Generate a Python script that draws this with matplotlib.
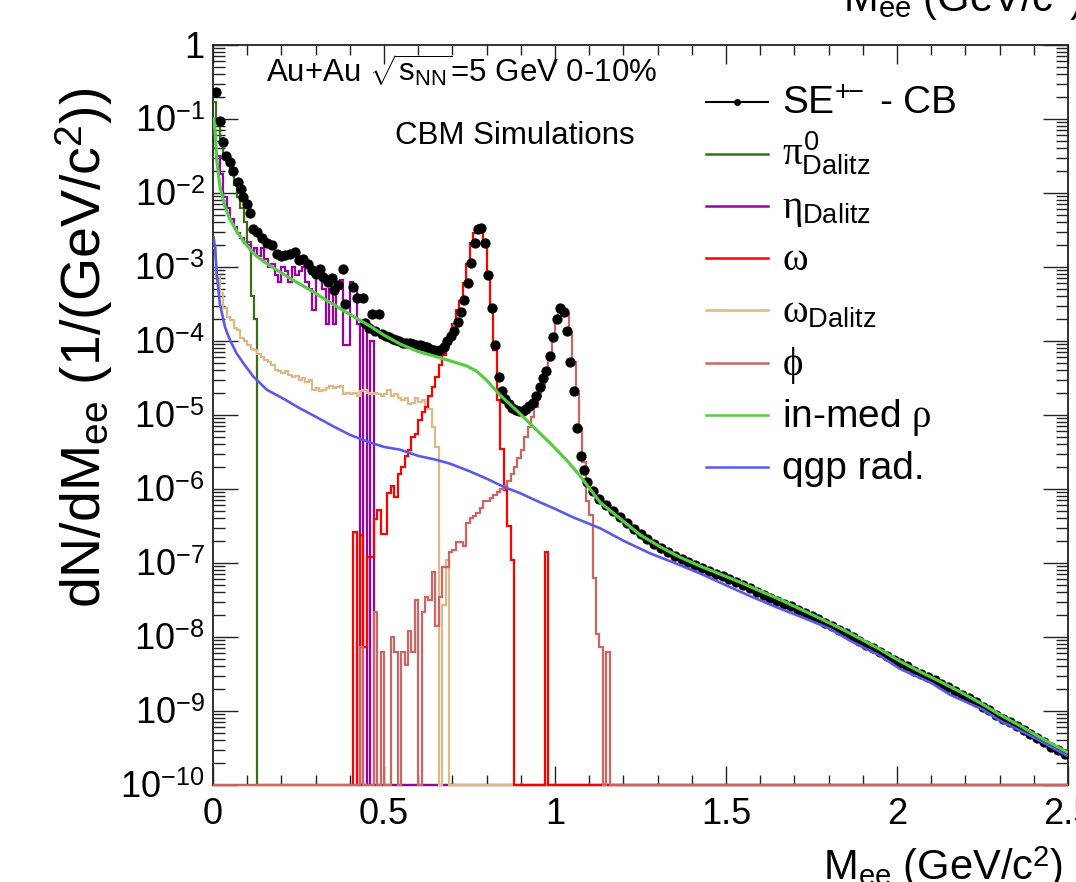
import numpy as np
import matplotlib.pyplot as plt
from matplotlib import ticker

plt.rcParams['font.family'] = 'Liberation Sans'
plt.rcParams['mathtext.fontset'] = 'custom'
plt.rcParams['mathtext.rm'] = 'Liberation Sans'
plt.rcParams['mathtext.it'] = 'Liberation Serif'
plt.rcParams['mathtext.bf'] = 'Liberation Sans:bold'

# ==============================================================================
# DATA: dN/dM_ee, 0-10% Au+Au at sqrt(s_NN) = 5 GeV
# ==============================================================================
BIN = 0.01            # histogram bin width (GeV/c^2)
YMIN, YMAX = 1e-10, 1.0

# cocktail histograms: first bin low edge + contents of consecutive bins
pi0_start = 0.00
pi0_vals = [1.7e-1, 8.9e-2, 5.6e-2, 3.5e-2, 2.5e-2, 1.8e-2, 1.3e-2, 8.9e-3,
            6.3e-3, 4.0e-3, 2.2e-3, 4.0e-4, 2.0e-4]

eta_start = 0.00
eta_vals = [4.0e-2, 3.2e-2, 1.8e-2, 8.9e-3, 6.3e-3, 4.4e-3, 3.5e-3, 2.9e-3,
            2.5e-3, 2.1e-3, 2.0e-3, 1.6e-3, 1.8e-3, 1.4e-3, 1.8e-3, 1.3e-3,
            1.0e-3, 1.1e-3, 7.9e-4, 6.3e-4, 1.0e-3, 8.9e-4, 6.3e-4, 1.0e-3,
            7.9e-4, 8.9e-4, 1.0e-3, 6.3e-4, 5.0e-4, 2.6e-4, 7.9e-4, 7.1e-4,
            5.0e-4, 1.7e-4, 5.0e-4, 1.7e-4, 5.6e-4, 6.6e-4, 8.9e-5, 8.9e-5,
            6.3e-4, 5.6e-4, 1.7e-4, 0.0, 1.6e-4, 0.0, 1.0e-4, 0.0]

omega_start = 0.41
omega_vals = [2.6e-7, 0.0, 2.4e-7, 7.4e-9, 1.2e-7, 1.2e-7, 3.9e-7, 5.2e-7,
              2.5e-7, 2.5e-7, 8.9e-7, 1.1e-6, 7.9e-7, 1.6e-6, 2.0e-6, 2.8e-6,
              3.4e-6, 5.1e-6, 5.6e-6, 8.5e-6, 1.1e-5, 1.3e-5, 1.8e-5, 2.4e-5,
              3.3e-5, 4.8e-5, 6.5e-5, 8.3e-5, 1.26e-4, 1.7e-4, 2.6e-4, 3.5e-4,
              6.0e-4, 1.1e-3, 2.1e-3, 2.9e-3, 3.3e-3, 3.3e-3, 2.1e-3, 7.8e-4,
              2.8e-4, 7.6e-5, 1.6e-5, 3.5e-6, 9.8e-7, 3.2e-7, 1.1e-7,
              0.0, 0.0, 0.0, 0.0, 0.0, 0.0, 0.0, 0.0, 0.0, 1.4e-7]

omegaD_start = 0.00
omegaD_vals = [1.8e-3, 7.4e-4, 4.4e-4, 2.8e-4, 2.1e-4, 1.9e-4, 1.5e-4, 1.4e-4,
               1.1e-4, 1.0e-4, 8.9e-5, 7.9e-5, 7.6e-5, 6.6e-5, 6.0e-5, 5.5e-5,
               5.2e-5, 4.7e-5, 4.1e-5, 3.9e-5, 3.7e-5, 3.9e-5, 3.5e-5, 3.3e-5,
               3.4e-5, 3.0e-5, 3.2e-5, 2.8e-5, 3.0e-5, 2.2e-5, 2.3e-5, 2.1e-5,
               2.2e-5, 2.3e-5, 2.5e-5, 2.3e-5, 2.4e-5, 2.5e-5, 1.9e-5, 2.0e-5,
               1.9e-5, 2.0e-5, 1.8e-5, 2.1e-5, 2.2e-5, 2.0e-5, 1.9e-5, 2.0e-5,
               1.9e-5, 1.8e-5, 1.9e-5, 2.2e-5, 1.8e-5, 1.9e-5, 1.7e-5, 1.6e-5,
               1.7e-5, 1.4e-5, 1.45e-5, 1.7e-5, 1.5e-5, 1.6e-5, 1.3e-5, 1.2e-5,
               6.9e-6, 3.7e-6, 0.0, 2.7e-8, 1.1e-7]

phi_start = 0.42
phi_vals = [0.0, 7.4e-9, 0.0, 0.0, 0.0, 2.2e-8, 0.0, 6.3e-9, 0.0, 0.0,
            1.0e-8, 6.3e-9, 0.0, 6.3e-9, 4.2e-9, 1.2e-8, 6.3e-9, 3.2e-8, 0.0, 2.2e-8,
            3.5e-8, 3.2e-8, 7.6e-8, 1.4e-8, 3.5e-8, 8.9e-8, 8.9e-8, 1.4e-7, 1.5e-7, 1.9e-7,
            1.95e-7, 1.7e-7, 3.5e-7, 4.0e-7, 4.3e-7, 4.7e-7, 5.5e-7, 6.8e-7, 6.8e-7, 7.6e-7,
            8.3e-7, 9.1e-7, 1.0e-6, 1.1e-6, 1.3e-6, 1.6e-6, 2.0e-6, 2.6e-6, 3.4e-6, 5.1e-6,
            6.9e-6, 9.5e-6, 1.3e-5, 1.8e-5, 2.4e-5, 3.6e-5, 5.5e-5, 1.0e-4, 2.1e-4, 2.6e-4,
            2.6e-4, 2.3e-4, 1.3e-4, 5.2e-5, 1.9e-5, 6.6e-6, 2.3e-6, 6.8e-7, 4.5e-7, 6.2e-8,
            1.1e-8, 7.4e-9, 0.0, 6.3e-9]

# in-medium rho and QGP radiation (smooth model curves)
rho_m = [0.002, 0.006, 0.011, 0.02, 0.035, 0.05, 0.07, 0.09, 0.12, 0.15, 0.19,
         0.235, 0.284, 0.332, 0.38, 0.43, 0.46, 0.5, 0.547, 0.6, 0.644, 0.693,
         0.742, 0.771, 0.8, 0.839, 0.888, 0.937, 0.985, 1.034, 1.073, 1.132,
         1.19, 1.249, 1.307, 1.365, 1.424, 1.482, 1.541, 1.599, 1.658, 1.716,
         1.775, 1.833, 1.892, 1.95, 2.009, 2.067, 2.126, 2.184, 2.243, 2.301,
         2.36, 2.418, 2.496]
rho_y = [1.0e-1, 7.1e-2, 2.8e-2, 1.23e-2, 6.5e-3, 4.4e-3, 3.0e-3, 2.2e-3,
         1.5e-3, 1.17e-3, 8.9e-4, 6.6e-4, 4.9e-4, 3.55e-4, 2.6e-4, 1.9e-4,
         1.58e-4, 1.2e-4, 9.1e-5, 7.2e-5, 6.3e-5, 5.4e-5, 4.6e-5, 3.9e-5,
         2.95e-5, 1.86e-5, 1.15e-5, 6.9e-6, 4.2e-6, 2.45e-6, 1.51e-6, 6.6e-7,
         4.0e-7, 2.4e-7, 1.66e-7, 1.2e-7, 9.1e-8, 7.1e-8, 5.5e-8, 4.2e-8,
         3.2e-8, 2.4e-8, 1.78e-8, 1.32e-8, 9.5e-9, 6.8e-9, 4.7e-9, 3.4e-9,
         2.5e-9, 1.82e-9, 1.29e-9, 8.9e-10, 6.3e-10, 4.4e-10, 2.8e-10]

qgp_m = [0.002, 0.006, 0.011, 0.02, 0.035, 0.05, 0.069, 0.089, 0.118, 0.157,
         0.206, 0.254, 0.3, 0.35, 0.4, 0.45, 0.5, 0.547, 0.6, 0.65, 0.693,
         0.75, 0.8, 0.85, 0.9, 0.95, 1.0, 1.05, 1.132, 1.2, 1.278, 1.35,
         1.425, 1.5, 1.572, 1.65, 1.716, 1.8, 1.863, 1.95, 2.009, 2.1, 2.155,
         2.25, 2.301, 2.4, 2.496]
qgp_y = [2.5e-3, 1.8e-3, 8.1e-4, 3.2e-4, 1.55e-4, 1.02e-4, 6.8e-5, 5.0e-5,
         3.3e-5, 2.2e-5, 1.66e-5, 1.23e-5, 9.5e-6, 7.1e-6, 5.4e-6, 4.4e-6,
         3.7e-6, 3.4e-6, 2.8e-6, 2.5e-6, 2.2e-6, 1.74e-6, 1.38e-6, 1.07e-6,
         8.7e-7, 6.8e-7, 5.4e-7, 4.2e-7, 2.95e-7, 2.0e-7, 1.35e-7, 1.0e-7,
         7.2e-8, 5.0e-8, 3.55e-8, 2.5e-8, 1.9e-8, 1.32e-8, 8.9e-9, 5.6e-9,
         3.7e-9, 2.4e-9, 1.66e-9, 1.05e-9, 7.4e-10, 4.4e-10, 2.5e-10]

# same-event unlike-sign pairs minus combinatorial background
se_m = [0.009, 0.02, 0.028, 0.038, 0.05, 0.059, 0.074, 0.081, 0.089, 0.1,
        0.108, 0.118, 0.13, 0.142, 0.157, 0.172, 0.186, 0.2, 0.21, 0.225,
        0.24, 0.25, 0.264, 0.279, 0.289, 0.301, 0.313, 0.322, 0.337, 0.347,
        0.354, 0.366, 0.381, 0.386, 0.408, 0.42, 0.438,
        0.445, 0.455, 0.465, 0.475, 0.485, 0.495, 0.505, 0.515, 0.525, 0.535,
        0.545, 0.555, 0.565, 0.575, 0.585, 0.595, 0.605, 0.615, 0.625, 0.635,
        0.645, 0.655, 0.665, 0.675, 0.685, 0.695, 0.705, 0.715, 0.725, 0.735,
        0.745, 0.755, 0.765, 0.775, 0.785, 0.795, 0.805, 0.815, 0.825, 0.835,
        0.845, 0.855, 0.865, 0.875, 0.885, 0.895, 0.905, 0.915, 0.925, 0.935,
        0.945, 0.955, 0.965, 0.975, 0.985, 0.995, 1.005, 1.015, 1.025, 1.035,
        1.045, 1.055, 1.065, 1.075, 1.085, 1.095,
        1.11, 1.13, 1.15, 1.17, 1.19, 1.21, 1.23, 1.25, 1.27, 1.29, 1.31,
        1.33, 1.35, 1.37, 1.39, 1.41, 1.43, 1.45, 1.47, 1.49, 1.51, 1.53,
        1.55, 1.57, 1.59, 1.61, 1.63, 1.65, 1.67, 1.69, 1.71, 1.73, 1.75,
        1.77, 1.79, 1.81, 1.83, 1.85, 1.87, 1.89, 1.91, 1.93, 1.95, 1.97,
        1.99, 2.01, 2.03, 2.05, 2.07, 2.09, 2.11, 2.13, 2.15, 2.17, 2.19,
        2.21, 2.23, 2.25, 2.27, 2.29, 2.31, 2.33, 2.35, 2.37, 2.39, 2.41,
        2.43, 2.45, 2.47, 2.49]
se_y = [2.3e-1, 9.5e-2, 4.9e-2, 3.2e-2, 2.6e-2, 2.0e-2, 1.4e-2, 1.15e-2, 8.9e-3, 7.2e-3,
        5.4e-3, 3.3e-3, 3.0e-3, 2.5e-3, 2.1e-3, 2.0e-3, 1.5e-3, 1.4e-3, 1.45e-3, 1.5e-3,
        1.6e-3, 1.26e-3, 1.3e-3, 1.1e-3, 9.1e-4, 8.1e-4, 9.5e-4, 7.4e-4, 6.3e-4, 7.1e-4,
        4.9e-4, 5.8e-4, 9.5e-4, 3.2e-4, 5.4e-4, 3.8e-4, 3.8e-4,
        1.74e-4, 1.51e-4, 2.34e-4, 1.38e-4, 2.29e-4, 1.23e-4, 1.17e-4, 1.12e-4, 1.07e-4, 1.02e-4,
        1.0e-4, 9.5e-5, 9.3e-5, 9.3e-5, 9.1e-5, 8.9e-5, 8.9e-5, 8.5e-5, 8.3e-5, 7.9e-5,
        7.6e-5, 7.4e-5, 7.6e-5, 8.3e-5, 1.0e-4, 1.17e-4, 1.38e-4, 1.82e-4, 2.5e-4, 3.55e-4,
        6.0e-4, 1.12e-3, 2.1e-3, 3.3e-3, 3.4e-3, 2.1e-3, 7.8e-4, 2.75e-4, 8.9e-5, 3.3e-5,
        2.1e-5, 1.66e-5, 1.41e-5, 1.26e-5, 1.17e-5, 1.15e-5, 1.15e-5, 1.2e-5, 1.32e-5, 1.45e-5,
        1.82e-5, 2.4e-5, 3.2e-5, 3.9e-5, 6.2e-5, 1.15e-4, 2.0e-4, 2.75e-4, 2.5e-4, 1.35e-4,
        5.2e-5, 2.1e-5, 6.6e-6, 2.75e-6, 1.82e-6, 1.26e-6,
        9.5e-7, 7.4e-7, 6.0e-7, 5.0e-7, 4.2e-7, 3.5e-7, 2.9e-7, 2.45e-7, 2.1e-7, 1.82e-7, 1.58e-7,
        1.41e-7, 1.26e-7, 1.12e-7, 1.02e-7, 9.3e-8, 8.5e-8, 7.9e-8, 7.2e-8, 6.6e-8, 6.0e-8, 5.6e-8,
        5.0e-8, 4.6e-8, 4.1e-8, 3.7e-8, 3.4e-8, 3.1e-8, 2.8e-8, 2.6e-8, 2.3e-8, 2.1e-8, 1.9e-8,
        1.74e-8, 1.55e-8, 1.41e-8, 1.26e-8, 1.12e-8, 1.0e-8, 8.9e-9, 7.9e-9, 7.1e-9, 6.3e-9, 5.6e-9,
        4.9e-9, 4.4e-9, 4.0e-9, 3.5e-9, 3.2e-9, 2.9e-9, 2.6e-9, 2.3e-9, 2.1e-9, 1.86e-9, 1.66e-9,
        1.48e-9, 1.32e-9, 1.15e-9, 1.02e-9, 8.9e-10, 7.9e-10, 7.1e-10, 6.2e-10, 5.5e-10, 4.9e-10, 4.3e-10,
        3.8e-10, 3.3e-10, 3.0e-10, 2.6e-10]

labels = [r'SE$^{+\!\!-}$ - CB', r'$\pi^{0}_{\mathrm{Dalitz}}$',
          r'$\eta_{\mathrm{Dalitz}}$', r'$\omega$', r'$\omega_{\mathrm{Dalitz}}$',
          r'$\phi$', r'in-med $\rho$', 'qgp rad.']
colors = ['black', '#3c6e14', '#9b00a6', '#ff0000', '#deb887', '#cd6565',
          '#55cc44', '#5a5ae8']

# ==============================================================================
# HELPERS
# ==============================================================================
edges = np.arange(251) * BIN


def full_hist(start, vals):
    """Spread bin contents over 0-2.5 GeV; empty bins sit on the axis floor."""
    out = np.zeros(len(edges) - 1)
    i0 = int(round(start / BIN))
    out[i0:i0 + len(vals)] = vals
    return np.where(out > 0, out, YMIN)


# ==============================================================================
# PLOT
# ==============================================================================
W, H = 1076, 882
fig = plt.figure(figsize=(W / 100, H / 100), dpi=100)
ax = fig.add_axes([213 / W, 1 - 785 / H, 855 / W, 740 / H])

hists = [(pi0_start, pi0_vals, colors[1]),
         (eta_start, eta_vals, colors[2]),
         (omegaD_start, omegaD_vals, colors[4]),
         (omega_start, omega_vals, colors[3]),
         (phi_start, phi_vals, colors[5])]
for start, vals, col in hists:
    ax.stairs(full_hist(start, vals), edges, color=col, lw=1.6,
              baseline=None, zorder=2.6, clip_on=False)

ax.plot(se_m, se_y, 'o', color='black', ms=6.4, mec='black', zorder=3)
ax.plot(rho_m, rho_y, '-', color=colors[6], lw=2.3, zorder=4)
ax.plot(qgp_m, qgp_y, '-', color=colors[7], lw=1.9, zorder=4)

ax.set_xlim(0, 2.5)
ax.set_yscale('log')
ax.set_ylim(YMIN, YMAX)

# ROOT-like frame: ticks inside on all four sides
ax.xaxis.set_major_locator(ticker.MultipleLocator(0.5))
ax.xaxis.set_minor_locator(ticker.MultipleLocator(0.1))
ax.xaxis.set_major_formatter(ticker.FormatStrFormatter('%g'))
ax.yaxis.set_major_locator(ticker.LogLocator(base=10, numticks=20))
ax.yaxis.set_minor_locator(ticker.LogLocator(base=10, subs=np.arange(2, 10), numticks=20))
ax.yaxis.set_minor_formatter(ticker.NullFormatter())
ax.yaxis.set_major_formatter(ticker.FuncFormatter(
    lambda v, p: '1' if abs(v - 1) < 1e-9 else r'10$^{%d}$' % round(np.log10(v))))
ax.tick_params(which='both', direction='in', top=True, right=True,
               width=1.0, colors='#222222', labelcolor='black', labelsize=26)
ax.tick_params(axis='x', which='major', length=14, pad=9)
ax.tick_params(axis='x', which='minor', length=7.5)
ax.tick_params(axis='y', which='major', length=18, pad=6)
ax.tick_params(axis='y', which='minor', length=8.5)
for s in ax.spines.values():
    s.set_linewidth(1.3)
    s.set_color('#222222')

# legend drawn as a fixed-pitch column, like the ROOT TLegend
def ax_xy(px, py):
    return (px - 213) / 855, (785 - py) / 740

for i, (lab, col) in enumerate(zip(labels, colors)):
    py = 101.5 + 52.2 * i
    x0, y0 = ax_xy(706, py)
    x1, _ = ax_xy(768, py)
    ax.plot([x0, x1], [y0, y0], color=col, lw=1.8 if i else 1.5,
            transform=ax.transAxes, clip_on=False, zorder=5)
    if i == 0:
        ax.plot([(x0 + x1) / 2], [y0], 'o', color='black', ms=4,
                transform=ax.transAxes, clip_on=False, zorder=5)
    tx, ty = ax_xy(782, py + 12)
    ax.text(tx, ty, lab, transform=ax.transAxes, fontsize=28,
            ha='left', va='baseline')

tx, ty = ax_xy(266, 81)
ax.text(tx, ty, r'Au+Au $\sqrt{\mathrm{s}_{\mathrm{NN}}}$=5 GeV 0-10%',
        transform=ax.transAxes, fontsize=22.5, ha='left', va='baseline')
tx, ty = ax_xy(395, 144)
ax.text(tx, ty, 'CBM Simulations', transform=ax.transAxes, fontsize=22.5,
        ha='left', va='baseline')

# axis titles, placed at the axis ends as ROOT does
fig.text(84 / W, 1 - 88 / H, r'dN/dM$_{\mathrm{ee}}$ (1/(GeV/c$^{2}$))',
         rotation=90, ha='center', va='top', fontsize=40)
xtitle = r'M$_{\mathrm{ee}}$ (GeV/c$^{2}$)'
fig.text(1063 / W, 1 - 880 / H, xtitle, ha='right', va='baseline', fontsize=30)
fig.text(843 / W, 1 - 12 / H, xtitle, ha='left', va='baseline', fontsize=30)

fig.savefig('out.png', dpi=100)
